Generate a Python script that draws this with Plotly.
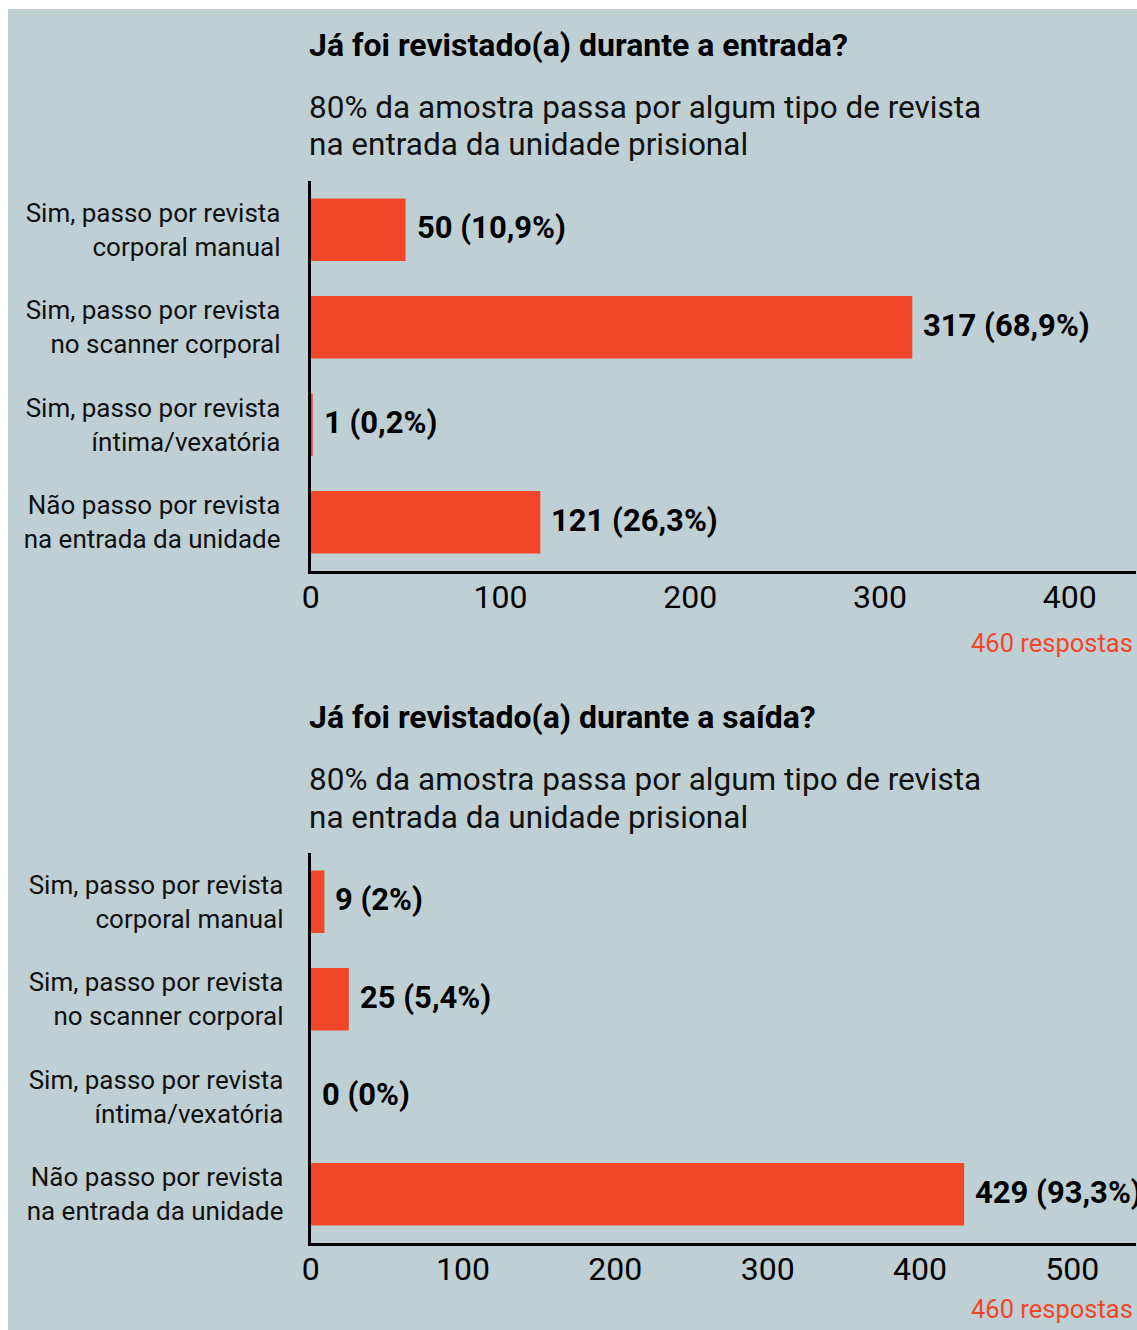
import plotly.graph_objects as go

# ---------------- data ----------------
categories = [
    "Sim, passo por revista<br>corporal manual",
    "Sim, passo por revista<br>no scanner corporal",
    "Sim, passo por revista<br>íntima/vexatória",
    "Não passo por revista<br>na entrada da unidade",
]
entrada_values = [50, 317, 1, 121]
entrada_pct = [10.9, 68.9, 0.2, 26.3]
saida_values = [9, 25, 0, 429]
saida_pct = [2, 5.4, 0, 93.3]

entrada_ticks = [0, 100, 200, 300, 400]
saida_ticks = [0, 100, 200, 300, 400, 500]

title_entrada = "Já foi revistado(a) durante a entrada?"
title_saida = "Já foi revistado(a) durante a saída?"
subtitle_lines = ["80% da amostra passa por algum tipo de revista",
                  "na entrada da unidade prisional"]
n_respostas = "460 respostas"

# ---------------- style ----------------
W, H = 1160, 1340
BG = "#bed0d4"
BAR = "#f1462a"
FONT = "Roboto"


def fx(px):
    return px / W


def fy(px):
    return 1 - px / H


def pct_label(v, p):
    s = f"{p:g}".replace(".", ",")
    return f"<b>{v} ({s}%)</b>"


fig = go.Figure()
fig.add_trace(go.Bar(x=entrada_values, y=categories, orientation="h",
                     marker=dict(color=BAR, line=dict(width=0)),
                     xaxis="x", yaxis="y", hoverinfo="skip"))
fig.add_trace(go.Bar(x=saida_values, y=categories, orientation="h",
                     marker=dict(color=BAR, line=dict(width=0)),
                     xaxis="x2", yaxis="y2", hoverinfo="skip"))

x_dom = [fx(296), fx(1128)]
top_dom = [fy(562), fy(172)]
bot_dom = [fy(1234), fy(844)]

common_x = dict(showline=True, linecolor="black", linewidth=3, showgrid=False,
                zeroline=False, ticks="", ticklen=0, ticklabelstandoff=-4,
                tickfont=dict(family=FONT, size=32, color="black"),
                fixedrange=True)
common_y = dict(showline=True, linecolor="black", linewidth=3, showgrid=False,
                zeroline=False, ticks="", autorange="reversed",
                tickfont=dict(family=FONT, size=26, color="#111"),
                fixedrange=True)

fig.update_layout(
    width=W, height=H, autosize=False,
    margin=dict(l=0, r=0, t=0, b=0),
    paper_bgcolor=BG, plot_bgcolor=BG,
    showlegend=False, bargap=0.36,
    xaxis=dict(domain=x_dom, anchor="y", range=[0, 435],
               tickvals=entrada_ticks, **common_x),
    yaxis=dict(domain=top_dom, anchor="x", ticklabelstandoff=22, **common_y),
    xaxis2=dict(domain=x_dom, anchor="y2", range=[0, 542],
                tickvals=saida_ticks, **common_x),
    yaxis2=dict(domain=bot_dom, anchor="x2", ticklabelstandoff=19, **common_y),
)

ann = []
for title, ty, sy in [(title_entrada, 36, 98), (title_saida, 708, 770)]:
    ann.append(dict(text=f"<b>{title}</b>", x=fx(292), y=fy(ty), xref="paper",
                    yref="paper", xanchor="left", yanchor="middle",
                    showarrow=False, font=dict(family=FONT, size=32, color="black")))
    for i, line in enumerate(subtitle_lines):
        ann.append(dict(text=line, x=fx(292), y=fy(sy + 38 * i), xref="paper",
                        yref="paper", xanchor="left", yanchor="middle",
                        showarrow=False, font=dict(family=FONT, size=31.5, color="#111")))

for ry in [634, 1300]:
    ann.append(dict(text=n_respostas, x=fx(1127), y=fy(ry), xref="paper",
                    yref="paper", xanchor="right", yanchor="middle",
                    showarrow=False, font=dict(family=FONT, size=25.5, color=BAR)))

for vals, pcts, xr, yr in [(entrada_values, entrada_pct, "x", "y"),
                           (saida_values, saida_pct, "x2", "y2")]:
    for c, v, p in zip(categories, vals, pcts):
        ann.append(dict(text=pct_label(v, p), x=v, y=c, xref=xr, yref=yr,
                        xanchor="left", yanchor="middle", xshift=9, yshift=2,
                        showarrow=False,
                        font=dict(family=FONT, size=31, color="black")))

fig.update_layout(annotations=ann)
fig.write_html(
    "out.html",
    post_script="document.documentElement.style.overflow='hidden';"
                "document.body.style.overflow='visible';"
                "document.body.style.margin='9px 0 0 8px';",
)
